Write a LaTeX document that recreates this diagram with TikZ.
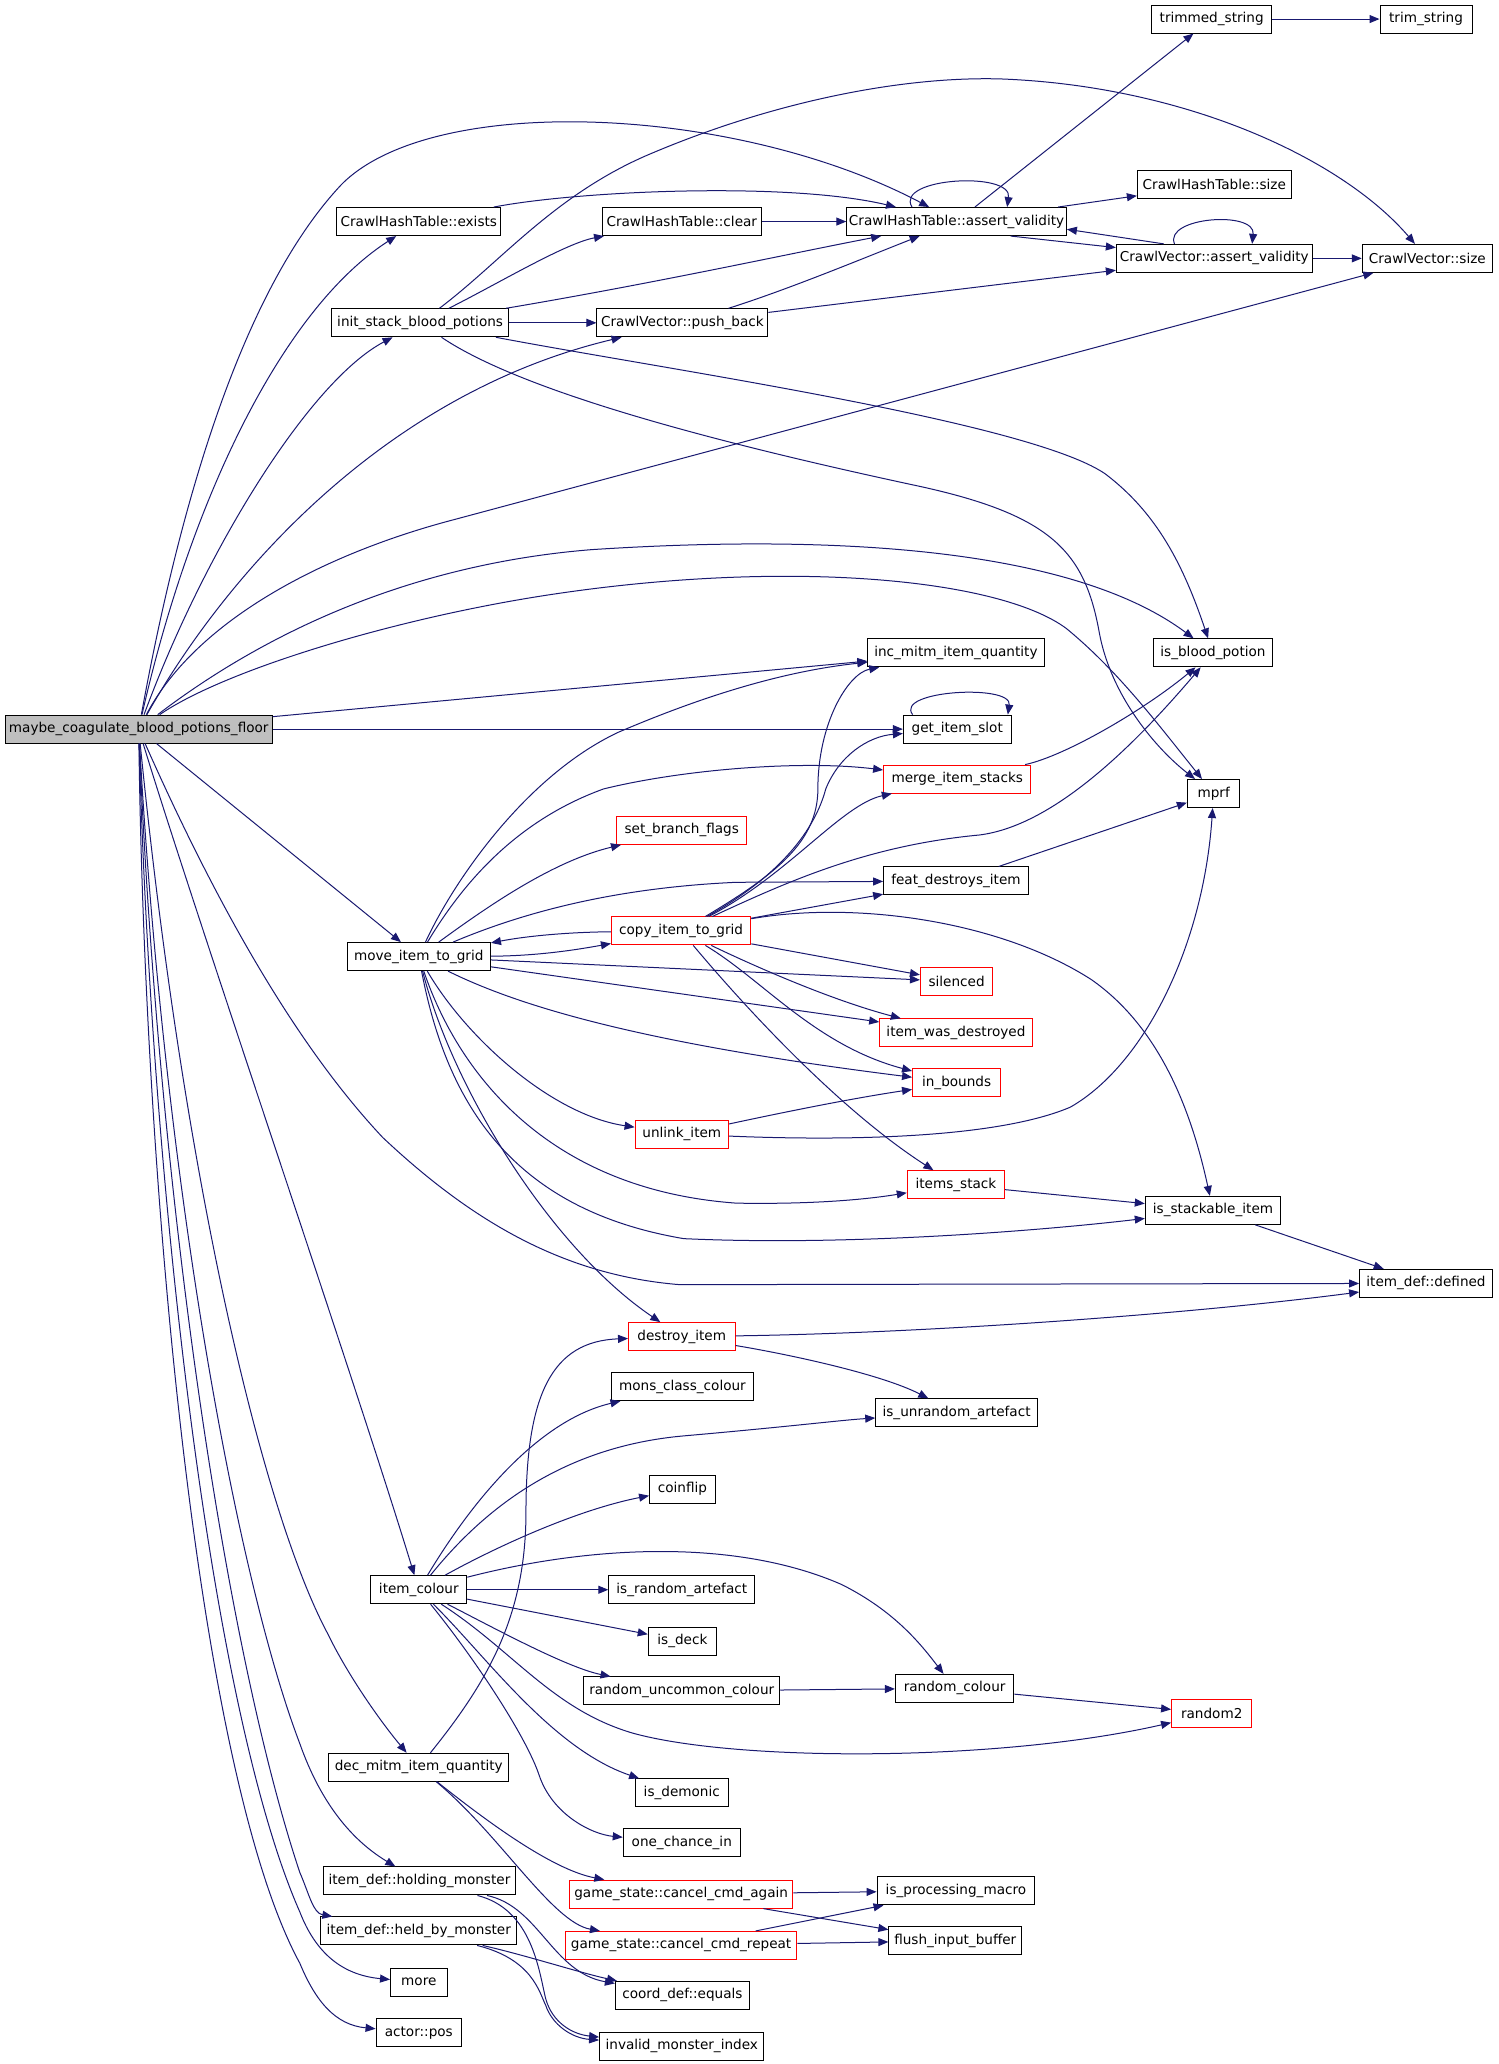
\documentclass[tikz,border=0pt]{standalone}
\usepackage{fontspec}
\setmainfont{DejaVu Sans}
\usetikzlibrary{arrows.meta}
\definecolor{eblue}{HTML}{191970}
\definecolor{gfill}{HTML}{BFBFBF}
\newcommand\mkbox[6]{\pgfmathsetmacro\bw{#5*0.6575}\node[#1, minimum width=\bw pt] (#2) at (#3,#4) {#6};}
\begin{document}
\begin{tikzpicture}[x=0.6575pt,y=-0.6575pt,
  nb/.style={draw=black, line width=0.5pt, inner sep=0pt, minimum height=14pt, font=\fontsize{6.8}{8}\selectfont, fill=white},
  rb/.style={nb, draw=red},
  mb/.style={nb, fill=gfill},
  cg/.style={draw=eblue, line width=0.5pt, -{Triangle[length=5pt,width=4pt]}}]
\path[fill=white,use as bounding box] (0,0) rectangle (1140,1569.7);
% nodes
\mkbox{mb}{main}{105.5}{554.5}{203}{maybe\_coagulate\_blood\_potions\_floor}
\mkbox{nb}{trimmed}{921.5}{14.5}{91}{trimmed\_string}
\mkbox{nb}{trim}{1084.5}{14.5}{70}{trim\_string}
\mkbox{nb}{chsize}{923.5}{140.5}{117}{CrawlHashTable::size}
\mkbox{nb}{exists}{318.5}{168.5}{125}{CrawlHashTable::exists}
\mkbox{nb}{clear}{518.5}{168.5}{121}{CrawlHashTable::clear}
\mkbox{nb}{hav}{727.5}{168.5}{167}{CrawlHashTable::assert\_validity}
\mkbox{nb}{cvav}{923.5}{196.5}{149}{CrawlVector::assert\_validity}
\mkbox{nb}{cvsize}{1085.5}{196.5}{99}{CrawlVector::size}
\mkbox{nb}{init}{319.5}{245.5}{135}{init\_stack\_blood\_potions}
\mkbox{nb}{push}{519}{245.5}{130}{CrawlVector::push\_back}
\mkbox{nb}{inc}{727}{496.5}{134}{inc\_mitm\_item\_quantity}
\mkbox{nb}{ibp}{922.5}{496.5}{91}{is\_blood\_potion}
\mkbox{nb}{slot}{728}{554.5}{82}{get\_item\_slot}
\mkbox{rb}{merge}{728}{592.5}{112}{merge\_item\_stacks}
\mkbox{nb}{mprf}{923}{603.5}{40}{mprf}
\mkbox{rb}{sbf}{518.5}{631.5}{99}{set\_branch\_flags}
\mkbox{nb}{feat}{727}{670}{110}{feat\_destroys\_item}
\mkbox{rb}{copy}{518}{708}{106}{copy\_item\_to\_grid}
\mkbox{nb}{move}{318.5}{727.5}{109}{move\_item\_to\_grid}
\mkbox{rb}{silenced}{727.5}{746.5}{55}{silenced}
\mkbox{rb}{iwd}{727}{785.5}{116}{item\_was\_destroyed}
\mkbox{rb}{inb}{727.5}{823.5}{67}{in\_bounds}
\mkbox{rb}{unlink}{518.5}{862.5}{71}{unlink\_item}
\mkbox{rb}{istack}{727}{901}{74}{items\_stack}
\mkbox{nb}{isst}{922.5}{920.5}{103}{is\_stackable\_item}
\mkbox{nb}{defined}{1084.5}{976}{101}{item\_def::defined}
\mkbox{rb}{destroy}{518.5}{1016.5}{81}{destroy\_item}
\mkbox{nb}{mcc}{519}{1054.5}{108}{mons\_class\_colour}
\mkbox{nb}{iua}{727.5}{1074.5}{123}{is\_unrandom\_artefact}
\mkbox{nb}{coinflip}{519}{1132.5}{50}{coinflip}
\mkbox{nb}{icol}{318.5}{1209}{73}{item\_colour}
\mkbox{nb}{ira}{518.5}{1209}{111}{is\_random\_artefact}
\mkbox{nb}{isdeck}{519}{1248}{52}{is\_deck}
\mkbox{nb}{ruc}{518.5}{1286}{149}{random\_uncommon\_colour}
\mkbox{nb}{rcol}{726}{1284}{90}{random\_colour}
\mkbox{rb}{random2}{921.5}{1303}{61}{random2}
\mkbox{nb}{dec}{318.5}{1344}{137}{dec\_mitm\_item\_quantity}
\mkbox{nb}{isdem}{518.5}{1363.5}{71}{is\_demonic}
\mkbox{nb}{oci}{518.5}{1401.5}{89}{one\_chance\_in}
\mkbox{nb}{hold}{319}{1430.5}{146}{item\_def::holding\_monster}
\mkbox{rb}{cca}{518}{1440.5}{170}{game\_state::cancel\_cmd\_again}
\mkbox{nb}{ipm}{727}{1438}{120}{is\_processing\_macro}
\mkbox{nb}{held}{318.5}{1468.5}{149}{item\_def::held\_by\_monster}
\mkbox{rb}{ccr}{518}{1479.5}{176}{game\_state::cancel\_cmd\_repeat}
\mkbox{nb}{fib}{726.5}{1476}{101}{flush\_input\_buffer}
\mkbox{nb}{more}{318.5}{1507.5}{43}{more}
\mkbox{nb}{cde}{519}{1517.5}{102}{coord\_def::equals}
\mkbox{nb}{apos}{318.5}{1546}{65}{actor::pos}
\mkbox{nb}{imi}{518.5}{1556}{125}{invalid\_monster\_index}
% edges from main
\draw[cg] (main) .. controls (145,380) and (215,235) .. (exists);
\draw[cg] (main) .. controls (155,420) and (235,290) .. (init);
\draw[cg] (main) .. controls (130,420) and (175,230) .. (260,140) .. controls (330,70) and (560,80) .. (hav);
\draw[cg] (main) .. controls (170,440) and (290,300) .. (push);
\draw[cg] (main) .. controls (150,470) and (250,420) .. (346,395) -- (cvsize);
\draw[cg] (main) .. controls (190,490) and (300,430) .. (450,418) .. controls (650,405) and (820,420) .. (ibp);
\draw[cg] (main) .. controls (170,510) and (300,470) .. (420,452) .. controls (600,425) and (760,440) .. (811,478) .. controls (850,510) and (880,550) .. (mprf);
\draw[cg] (main) -- (inc);
\draw[cg] (main) -- (slot);
\draw[cg] (main) -- (move);
\draw[cg] (main) .. controls (170,700) and (230,800) .. (291,865) .. controls (360,930) and (430,970) .. (517,977) -- (defined);
\draw[cg] (main) .. controls (150,700) and (270,1050) .. (icol);
\draw[cg] (main) .. controls (140,900) and (200,1150) .. (249,1242) .. controls (265,1275) and (290,1310) .. (dec);
\draw[cg] (main) .. controls (125,900) and (180,1200) .. (228,1326) .. controls (240,1360) and (260,1395) .. (hold);
\draw[cg] (main) .. controls (120,900) and (170,1250) .. (228,1424) .. controls (235,1440) and (238,1455) .. (held);
\draw[cg] (main) .. controls (115,900) and (160,1300) .. (228,1454) .. controls (240,1485) and (260,1502) .. (more);
\draw[cg] (main) .. controls (110,900) and (150,1350) .. (228,1493) .. controls (240,1522) and (255,1540) .. (apos);
% top cluster
\draw[cg] (exists) .. controls (440,145) and (600,138) .. (hav);
\draw[cg] (clear) -- (hav);
\draw[cg] (init) .. controls (380,215) and (430,185) .. (clear);
\draw[cg] (init) .. controls (500,215) and (600,193) .. (hav);
\draw[cg] (init) -- (push);
\draw[cg] (init) .. controls (380,200) and (420,150) .. (490,119) .. controls (580,80) and (680,58) .. (760,60) .. controls (900,65) and (1020,120) .. (cvsize);
\draw[cg] (init) .. controls (500,280) and (780,320) .. (840,360) .. controls (880,390) and (900,430) .. (ibp);
\draw[cg] (init) .. controls (400,300) and (560,340) .. (700,370) .. controls (800,392) and (825,420) .. (836,481) .. controls (845,530) and (880,570) .. (mprf);
\draw[cg] (push) .. controls (600,220) and (660,195) .. (hav);
\draw[cg] (push) -- (cvav);
\draw[cg] (hav) -- (trimmed);
\draw[cg] (trimmed) -- (trim);
\draw[cg] (hav) -- (chsize);
\draw[cg] (hav.-15) -- (cvav);
\draw[cg] (cvav.164) -- (hav.-4);
\draw[cg] (cvav) -- (cvsize);
\draw[cg] (hav.162) .. controls (680,135) and (770,130) .. (hav.16);
\draw[cg] (cvav.160) .. controls (885,165) and (955,160) .. (cvav.21);
\draw[cg] (slot.162) .. controls (680,525) and (770,520) .. (slot.16);
% move
\draw[cg] (move) .. controls (345,670) and (400,590) .. (470,557) .. controls (540,527) and (600,510) .. (inc);
\draw[cg] (move) .. controls (350,675) and (390,625) .. (459,600) .. controls (520,585) and (610,578) .. (merge);
\draw[cg] (move) .. controls (370,690) and (420,655) .. (sbf);
\draw[cg] (move) .. controls (400,693) and (470,675) .. (560,671) -- (feat);
\draw[cg] (copy) .. controls (430,709) and (400,712) .. (move);
\draw[cg] (move) .. controls (410,727) and (440,722) .. (copy);
\draw[cg] (move) -- (silenced);
\draw[cg] (move) -- (iwd);
\draw[cg] (move) .. controls (400,768) and (500,795) .. (inb);
\draw[cg] (move) .. controls (355,790) and (420,848) .. (unlink);
\draw[cg] (move) .. controls (350,820) and (420,905) .. (560,915) .. controls (620,916) and (660,912) .. (istack);
\draw[cg] (move) .. controls (340,840) and (390,920) .. (520,942) .. controls (650,948) and (800,935) .. (isst);
\draw[cg] (move) .. controls (345,830) and (420,950) .. (destroy);
% copy
\draw[cg] (copy) .. controls (590,665) and (622,640) .. (622,600) .. controls (622,550) and (645,512) .. (inc);
\draw[cg] (copy) .. controls (595,665) and (620,630) .. (628,600) .. controls (638,575) and (660,560) .. (slot);
\draw[cg] (copy) .. controls (600,665) and (640,612) .. (merge);
\draw[cg] (copy) .. controls (600,670) and (660,643) .. (745,635) .. controls (800,628) and (860,570) .. (ibp);
\draw[cg] (copy) -- (feat);
\draw[cg] (copy) .. controls (650,685) and (760,700) .. (830,745) .. controls (880,780) and (905,840) .. (isst);
\draw[cg] (copy) -- (silenced);
\draw[cg] (copy) .. controls (570,733) and (630,760) .. (iwd);
\draw[cg] (copy) .. controls (580,745) and (620,795) .. (inb);
\draw[cg] (copy) .. controls (570,770) and (640,845) .. (istack);
% others middle
\draw[cg] (merge) .. controls (810,575) and (870,540) .. (ibp);
\draw[cg] (feat) -- (mprf);
\draw[cg] (unlink) .. controls (600,845) and (650,835) .. (inb);
\draw[cg] (unlink) .. controls (650,868) and (760,865) .. (814,842) .. controls (870,810) and (915,720) .. (mprf);
\draw[cg] (istack) -- (isst);
\draw[cg] (isst) -- (defined);
\draw[cg] (destroy) .. controls (700,1014) and (900,1000) .. (defined);
\draw[cg] (destroy) .. controls (600,1030) and (670,1045) .. (iua);
% dec
\draw[cg] (dec) .. controls (370,1280) and (400,1230) .. (400,1150) .. controls (400,1060) and (420,1020) .. (destroy);
\draw[cg] (dec) .. controls (370,1385) and (420,1422) .. (cca);
\draw[cg] (dec) .. controls (380,1395) and (420,1462) .. (ccr);
\draw[cg] (cca) -- (ipm);
\draw[cg] (cca.-10) -- (fib);
\draw[cg] (ccr.11) -- (ipm);
\draw[cg] (ccr) -- (fib);
% item_colour
\draw[cg] (icol) .. controls (360,1140) and (410,1080) .. (mcc);
\draw[cg] (icol) .. controls (370,1145) and (430,1100) .. (520,1092) .. controls (600,1085) and (640,1080) .. (iua);
\draw[cg] (icol) .. controls (380,1175) and (440,1148) .. (coinflip);
\draw[cg] (icol) .. controls (450,1175) and (560,1170) .. (640,1205) .. controls (680,1225) and (700,1250) .. (rcol);
\draw[cg] (icol) -- (ira);
\draw[cg] (icol) -- (isdeck);
\draw[cg] (icol) .. controls (370,1235) and (430,1268) .. (ruc);
\draw[cg] (icol) .. controls (390,1255) and (420,1300) .. (481,1318) .. controls (560,1340) and (760,1340) .. (random2);
\draw[cg] (icol) .. controls (370,1260) and (420,1330) .. (isdem);
\draw[cg] (icol) .. controls (360,1260) and (400,1320) .. (410,1350) .. controls (420,1380) and (450,1395) .. (oci);
\draw[cg] (ruc) -- (rcol);
\draw[cg] (rcol) -- (random2);
% holding / held
\draw[cg] (hold) .. controls (410,1450) and (420,1500) .. (cde);
\draw[cg] (hold) .. controls (405,1452) and (410,1500) .. (415,1520) .. controls (420,1538) and (435,1547) .. (imi);
\draw[cg] (held) .. controls (400,1487) and (440,1500) .. (cde);
\draw[cg] (held) .. controls (405,1490) and (410,1515) .. (415,1525) .. controls (420,1540) and (435,1550) .. (imi);
\end{tikzpicture}
\end{document}
